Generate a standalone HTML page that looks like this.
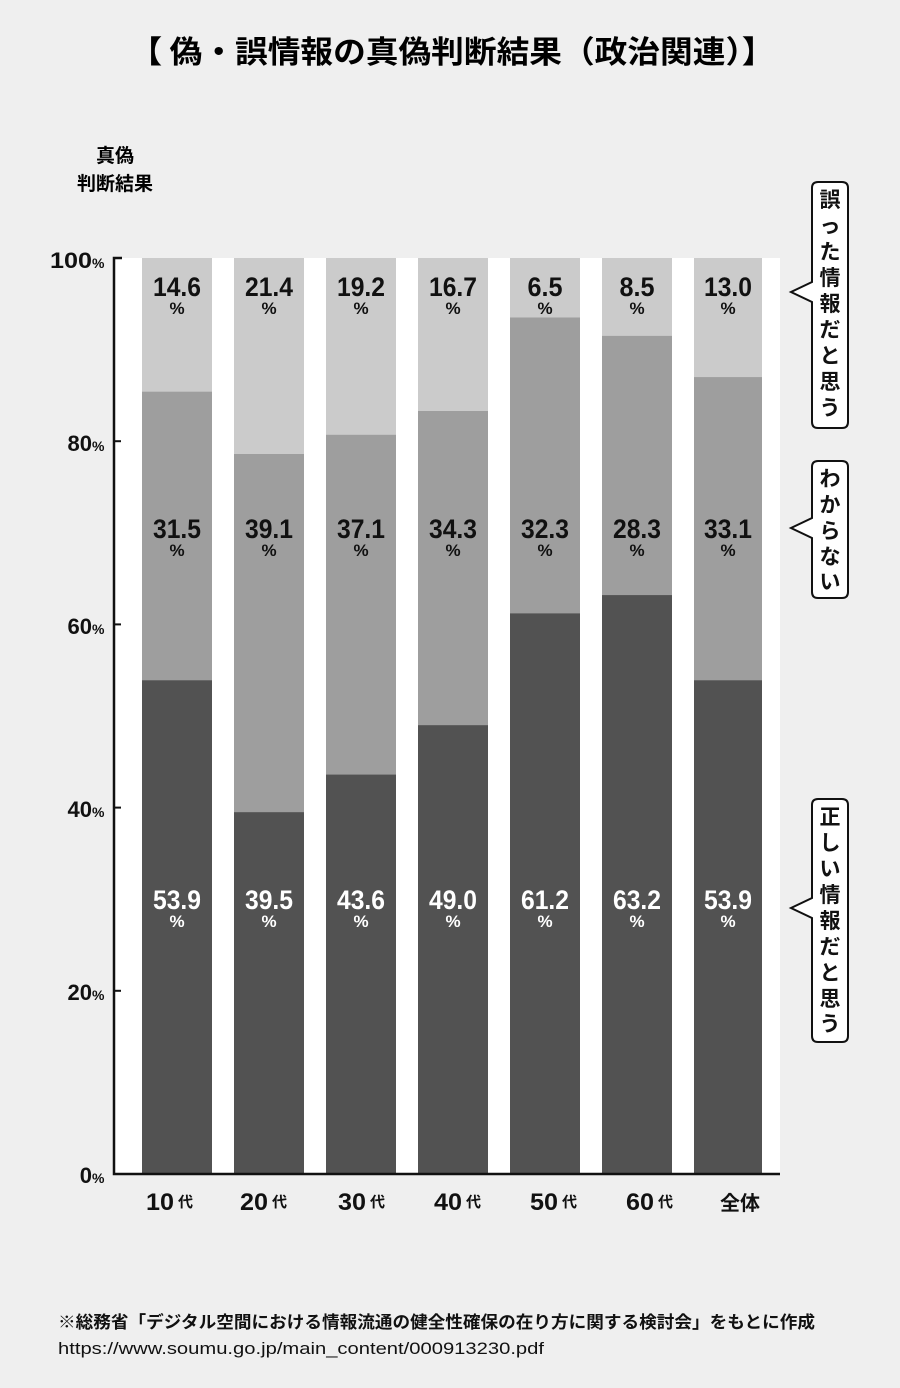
<!DOCTYPE html>
<html><head><meta charset="utf-8"><style>
body{margin:0;background:#efefef;}
svg{display:block;font-family:"Liberation Sans","Noto Sans CJK JP",sans-serif;}
.n{font-family:"Liberation Sans",sans-serif;font-weight:bold;font-size:27px;text-anchor:middle;}
.p{font-family:"Liberation Sans",sans-serif;font-weight:bold;font-size:17px;text-anchor:middle;}
.w{fill:#fff}
.yt{font-family:"Liberation Sans",sans-serif;font-weight:bold;font-size:22px;text-anchor:end;}
.v{font-family:"Noto Sans CJK JP",sans-serif;font-weight:bold;font-size:21px;text-anchor:middle;}
</style></head><body>
<svg width="900" height="1388" viewBox="0 0 900 1388">
<rect width="900" height="1388" fill="#efefef"/>
<text x="452" y="63" font-size="31" font-weight="bold" text-anchor="middle" textLength="645" lengthAdjust="spacingAndGlyphs" font-family="Noto Sans CJK JP,sans-serif">【 偽・誤情報の真偽判断結果（政治関連）】</text>
<text x="115" y="162" font-size="19" font-weight="bold" text-anchor="middle" font-family="Noto Sans CJK JP,sans-serif">真偽</text>
<text x="115" y="190" font-size="19" font-weight="bold" text-anchor="middle" font-family="Noto Sans CJK JP,sans-serif">判断結果</text>
<rect x="115" y="258" width="665" height="916" fill="#fff"/>
<g>
<rect x="142" y="258" width="70" height="916" fill="#cbcbcb"/><rect x="142" y="391.7" width="70" height="782.3" fill="#9e9e9e"/><rect x="142" y="680.3" width="70" height="493.7" fill="#525252"/>
<rect x="234" y="258" width="70" height="916" fill="#cbcbcb"/><rect x="234" y="454" width="70" height="720" fill="#9e9e9e"/><rect x="234" y="812.2" width="70" height="361.8" fill="#525252"/>
<rect x="326" y="258" width="70" height="916" fill="#cbcbcb"/><rect x="326" y="434.8" width="70" height="739.2" fill="#9e9e9e"/><rect x="326" y="774.6" width="70" height="399.4" fill="#525252"/>
<rect x="418" y="258" width="70" height="916" fill="#cbcbcb"/><rect x="418" y="411" width="70" height="763" fill="#9e9e9e"/><rect x="418" y="725.2" width="70" height="448.8" fill="#525252"/>
<rect x="510" y="258" width="70" height="916" fill="#cbcbcb"/><rect x="510" y="317.5" width="70" height="856.5" fill="#9e9e9e"/><rect x="510" y="613.4" width="70" height="560.6" fill="#525252"/>
<rect x="602" y="258" width="70" height="916" fill="#cbcbcb"/><rect x="602" y="335.9" width="70" height="838.1" fill="#9e9e9e"/><rect x="602" y="595.1" width="70" height="578.9" fill="#525252"/>
<rect x="694" y="258" width="68" height="916" fill="#cbcbcb"/><rect x="694" y="377.1" width="68" height="796.9" fill="#9e9e9e"/><rect x="694" y="680.3" width="68" height="493.7" fill="#525252"/>
</g>
<g fill="#111">
<text class="n" x="177" y="296" textLength="48" lengthAdjust="spacingAndGlyphs">14.6</text><text class="n" x="269" y="296" textLength="48" lengthAdjust="spacingAndGlyphs">21.4</text><text class="n" x="361" y="296" textLength="48" lengthAdjust="spacingAndGlyphs">19.2</text><text class="n" x="453" y="296" textLength="48" lengthAdjust="spacingAndGlyphs">16.7</text><text class="n" x="545" y="296" textLength="35" lengthAdjust="spacingAndGlyphs">6.5</text><text class="n" x="637" y="296" textLength="35" lengthAdjust="spacingAndGlyphs">8.5</text><text class="n" x="728" y="296" textLength="48" lengthAdjust="spacingAndGlyphs">13.0</text>
<text class="p" x="177" y="314">%</text><text class="p" x="269" y="314">%</text><text class="p" x="361" y="314">%</text><text class="p" x="453" y="314">%</text><text class="p" x="545" y="314">%</text><text class="p" x="637" y="314">%</text><text class="p" x="728" y="314">%</text>
<text class="n" x="177" y="538" textLength="48" lengthAdjust="spacingAndGlyphs">31.5</text><text class="n" x="269" y="538" textLength="48" lengthAdjust="spacingAndGlyphs">39.1</text><text class="n" x="361" y="538" textLength="48" lengthAdjust="spacingAndGlyphs">37.1</text><text class="n" x="453" y="538" textLength="48" lengthAdjust="spacingAndGlyphs">34.3</text><text class="n" x="545" y="538" textLength="48" lengthAdjust="spacingAndGlyphs">32.3</text><text class="n" x="637" y="538" textLength="48" lengthAdjust="spacingAndGlyphs">28.3</text><text class="n" x="728" y="538" textLength="48" lengthAdjust="spacingAndGlyphs">33.1</text>
<text class="p" x="177" y="556">%</text><text class="p" x="269" y="556">%</text><text class="p" x="361" y="556">%</text><text class="p" x="453" y="556">%</text><text class="p" x="545" y="556">%</text><text class="p" x="637" y="556">%</text><text class="p" x="728" y="556">%</text>
</g>
<g>
<text class="n w" x="177" y="909" textLength="48" lengthAdjust="spacingAndGlyphs">53.9</text><text class="n w" x="269" y="909" textLength="48" lengthAdjust="spacingAndGlyphs">39.5</text><text class="n w" x="361" y="909" textLength="48" lengthAdjust="spacingAndGlyphs">43.6</text><text class="n w" x="453" y="909" textLength="48" lengthAdjust="spacingAndGlyphs">49.0</text><text class="n w" x="545" y="909" textLength="48" lengthAdjust="spacingAndGlyphs">61.2</text><text class="n w" x="637" y="909" textLength="48" lengthAdjust="spacingAndGlyphs">63.2</text><text class="n w" x="728" y="909" textLength="48" lengthAdjust="spacingAndGlyphs">53.9</text>
<text class="p w" x="177" y="927">%</text><text class="p w" x="269" y="927">%</text><text class="p w" x="361" y="927">%</text><text class="p w" x="453" y="927">%</text><text class="p w" x="545" y="927">%</text><text class="p w" x="637" y="927">%</text><text class="p w" x="728" y="927">%</text>
</g>
<path d="M122 258 H114 V1174 H780" stroke="#111" stroke-width="2.5" fill="none"/>
<g stroke="#111" stroke-width="2"><line x1="114" x2="121" y1="441.2" y2="441.2"/><line x1="114" x2="121" y1="624.4" y2="624.4"/><line x1="114" x2="121" y1="807.6" y2="807.6"/><line x1="114" x2="121" y1="990.8" y2="990.8"/></g>
<g fill="#111">
<text class="yt" x="92" y="268" textLength="42" lengthAdjust="spacingAndGlyphs">100</text><text x="92" y="268" font-size="14" font-weight="bold">%</text>
<text class="yt" x="92" y="451">80</text><text x="92" y="451" font-size="14" font-weight="bold">%</text>
<text class="yt" x="92" y="634">60</text><text x="92" y="634" font-size="14" font-weight="bold">%</text>
<text class="yt" x="92" y="817">40</text><text x="92" y="817" font-size="14" font-weight="bold">%</text>
<text class="yt" x="92" y="1000">20</text><text x="92" y="1000" font-size="14" font-weight="bold">%</text>
<text class="yt" x="92" y="1183">0</text><text x="92" y="1183" font-size="14" font-weight="bold">%</text>
</g>
<g font-weight="bold" fill="#111">
<text x="146" y="1210" font-size="24" font-family="Liberation Sans,sans-serif" textLength="28" lengthAdjust="spacingAndGlyphs">10</text><text x="178" y="1207" font-size="15" font-family="Noto Sans CJK JP,sans-serif">代</text>
<text x="240" y="1210" font-size="24" font-family="Liberation Sans,sans-serif" textLength="28" lengthAdjust="spacingAndGlyphs">20</text><text x="272" y="1207" font-size="15" font-family="Noto Sans CJK JP,sans-serif">代</text>
<text x="338" y="1210" font-size="24" font-family="Liberation Sans,sans-serif" textLength="28" lengthAdjust="spacingAndGlyphs">30</text><text x="370" y="1207" font-size="15" font-family="Noto Sans CJK JP,sans-serif">代</text>
<text x="434" y="1210" font-size="24" font-family="Liberation Sans,sans-serif" textLength="28" lengthAdjust="spacingAndGlyphs">40</text><text x="466" y="1207" font-size="15" font-family="Noto Sans CJK JP,sans-serif">代</text>
<text x="530" y="1210" font-size="24" font-family="Liberation Sans,sans-serif" textLength="28" lengthAdjust="spacingAndGlyphs">50</text><text x="562" y="1207" font-size="15" font-family="Noto Sans CJK JP,sans-serif">代</text>
<text x="626" y="1210" font-size="24" font-family="Liberation Sans,sans-serif" textLength="28" lengthAdjust="spacingAndGlyphs">60</text><text x="658" y="1207" font-size="15" font-family="Noto Sans CJK JP,sans-serif">代</text>
<text x="720" y="1210" font-size="20" font-family="Noto Sans CJK JP,sans-serif">全体</text>
</g>
<g fill="#fff" stroke="#111" stroke-width="2">
<path d="M818 182 H842 Q848 182 848 188 V422 Q848 428 842 428 H818 Q812 428 812 422 V302 L791 292 L812 282 V188 Q812 182 818 182Z"/>
<path d="M818 461 H842 Q848 461 848 467 V592 Q848 598 842 598 H818 Q812 598 812 592 V538 L791 528 L812 518 V467 Q812 461 818 461Z"/>
<path d="M818 799 H842 Q848 799 848 805 V1036 Q848 1042 842 1042 H818 Q812 1042 812 1036 V918 L791 908 L812 898 V805 Q812 799 818 799Z"/>
</g>
<g fill="#111">
<text class="v" x="830" y="207">誤</text><text class="v" x="830" y="233">っ</text><text class="v" x="830" y="259">た</text><text class="v" x="830" y="285">情</text><text class="v" x="830" y="311">報</text><text class="v" x="830" y="337">だ</text><text class="v" x="830" y="363">と</text><text class="v" x="830" y="389">思</text><text class="v" x="830" y="415">う</text>
<text class="v" x="830" y="486">わ</text><text class="v" x="830" y="512">か</text><text class="v" x="830" y="538">ら</text><text class="v" x="830" y="564">な</text><text class="v" x="830" y="589">い</text>
<text class="v" x="830" y="824">正</text><text class="v" x="830" y="850">し</text><text class="v" x="830" y="876">い</text><text class="v" x="830" y="902">情</text><text class="v" x="830" y="928">報</text><text class="v" x="830" y="954">だ</text><text class="v" x="830" y="980">と</text><text class="v" x="830" y="1006">思</text><text class="v" x="830" y="1031">う</text>
</g>
<text x="58" y="1328" font-size="17" font-weight="bold" fill="#111" textLength="757" lengthAdjust="spacingAndGlyphs" font-family="Liberation Sans,Noto Sans CJK JP,sans-serif">※総務省「デジタル空間における情報流通の健全性確保の在り方に関する検討会」をもとに作成</text>
<text x="58" y="1354" font-size="17" fill="#111" textLength="486" lengthAdjust="spacingAndGlyphs" font-family="Liberation Sans,sans-serif">https://www.soumu.go.jp/main_content/000913230.pdf</text>
</svg>
</body></html>
